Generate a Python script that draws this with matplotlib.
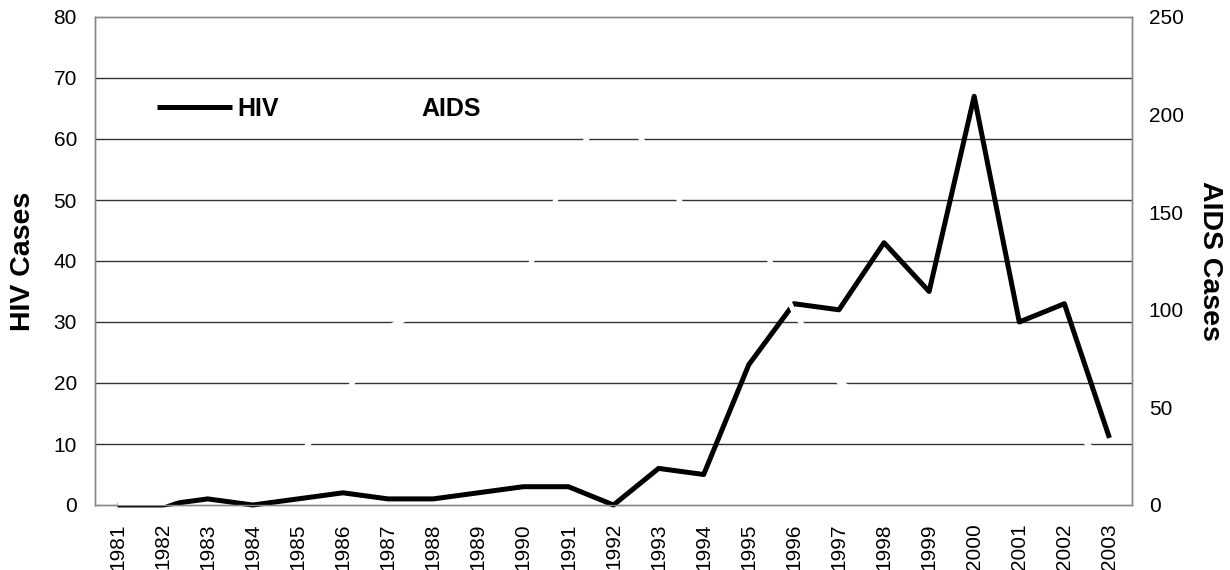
import matplotlib
matplotlib.use("Agg")
import matplotlib.pyplot as plt

plt.rcParams['font.family'] = ['Liberation Sans', 'DejaVu Sans']

years = [str(y) for y in range(1981, 2004)]
hiv_cases = [0, 0, 1, 0, 1, 2, 1, 1, 2, 3, 3, 0, 6, 5, 23, 33, 32, 43, 35, 67, 30, 33, 11]
# AIDS series is drawn in white in the original, only seen where it cuts the gridlines
aids_cases = [1, 1, 9, 14, 24, 55, 91, 102, 106, 114, 173, 209, 174, 135, 148, 99,
              63, 50, 47, 44, 41, 44, 19]

hiv_ticks = [0, 10, 20, 30, 40, 50, 60, 70, 80]
aids_ticks = [0, 50, 100, 150, 200, 250]

fig = plt.figure(figsize=(12.3, 5.7), dpi=100)
ax = fig.add_axes([95/1230, 1 - 505/570, (1132 - 95)/1230, (505 - 17)/570])
ax2 = ax.twinx()

x = list(range(len(years)))
l1, = ax.plot(x, hiv_cases, color='black', lw=3.6, solid_joinstyle='round',
              solid_capstyle='butt', label='HIV', zorder=3, clip_on=False)
l2, = ax2.plot(x, aids_cases, color='white', lw=3.6, solid_joinstyle='round',
               solid_capstyle='butt', label='AIDS', zorder=3)

ax.set_xlim(-0.5, len(years) - 0.5)
ax.set_ylim(0, 80)
ax2.set_ylim(0, 250)
ax.set_yticks(hiv_ticks)
ax2.set_yticks(aids_ticks)
ax.set_xticks(x)
ax.set_xticklabels(years, rotation=90)

for y in hiv_ticks[1:-1]:
    ax.axhline(y, color='#333333', lw=1.0, zorder=1)

for a in (ax, ax2):
    for s in a.spines.values():
        s.set_color('#888888')
        s.set_linewidth(1.0)
    a.tick_params(length=0, labelsize=15)
ax.tick_params(axis='y', pad=13)
ax.tick_params(axis='x', pad=13)
ax2.tick_params(axis='y', pad=12)

ax.set_ylabel('HIV Cases', fontsize=20.5, fontweight='bold', labelpad=13)
ax2.set_ylabel('AIDS Cases', fontsize=20.5, fontweight='bold', rotation=270,
               labelpad=28)

leg = ax.legend(handles=[l1, l2], ncol=2, frameon=False, loc='upper left',
                bbox_to_anchor=(157/1230, 1 - 97/570), bbox_transform=fig.transFigure,
                borderaxespad=0, borderpad=0, handlelength=3.0, handletextpad=0.2,
                columnspacing=2.5, prop={'size': 18, 'weight': 'bold'})

fig.savefig('out.png', dpi=100)
